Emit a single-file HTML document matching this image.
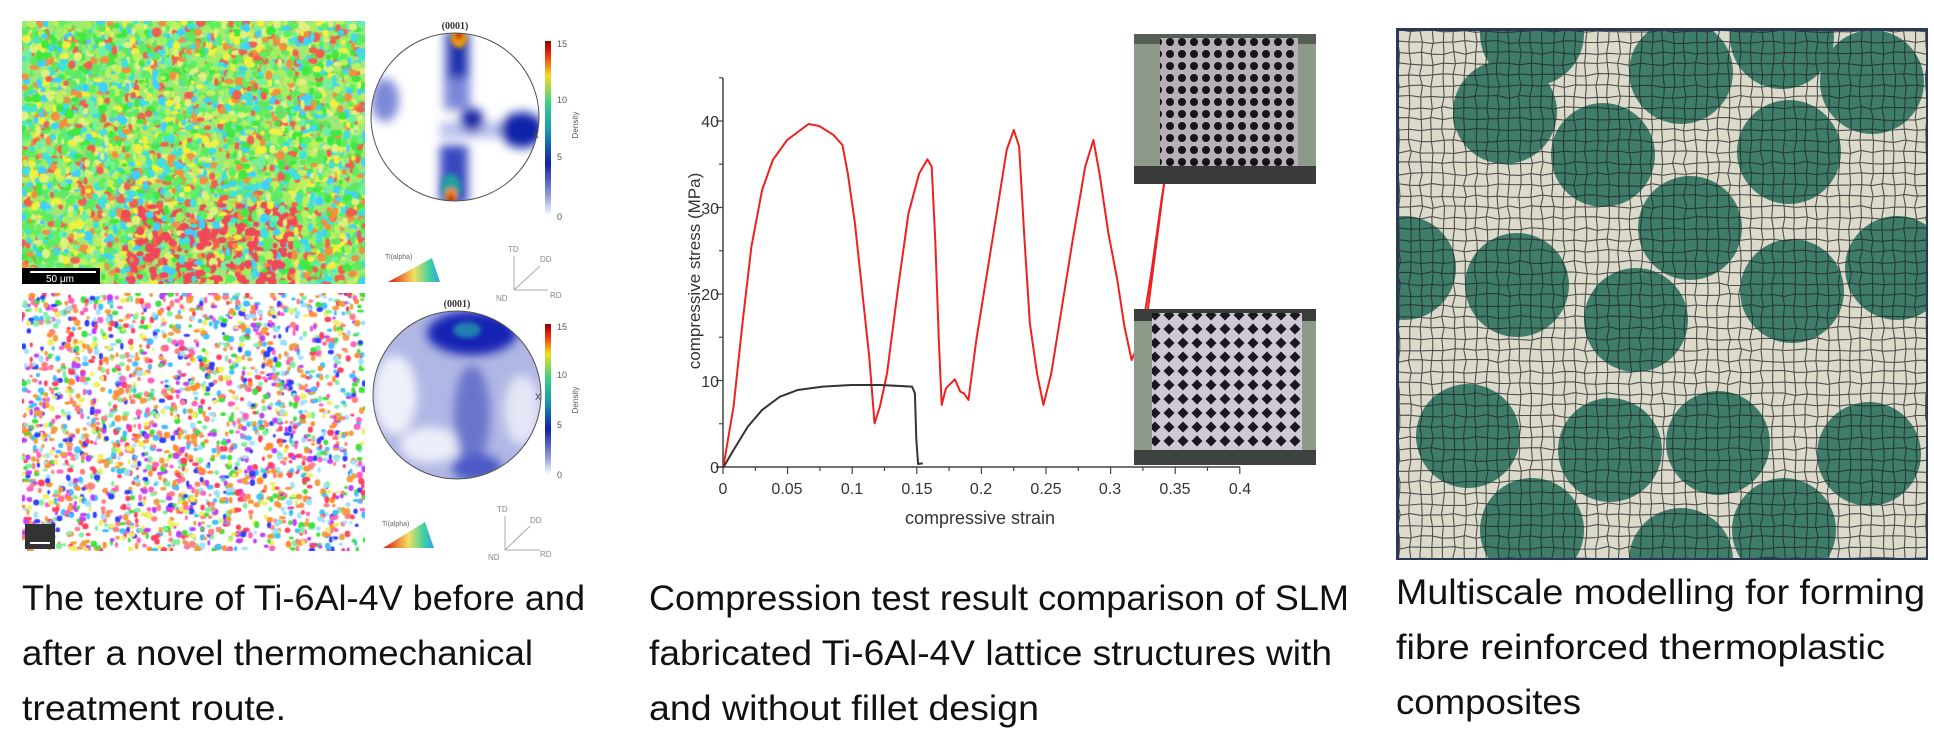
<!DOCTYPE html>
<html><head><meta charset="utf-8"><style>
html,body{margin:0;padding:0;background:#fff;width:1934px;height:746px;overflow:hidden}
svg{position:absolute;left:0;top:0}
canvas{position:absolute}
</style></head><body>
<canvas id="m1" width="343" height="263" style="left:22px;top:21px"></canvas>
<canvas id="m2" width="343" height="258" style="left:22px;top:293px"></canvas>
<svg width="1934" height="746" viewBox="0 0 1934 746" xmlns="http://www.w3.org/2000/svg" font-family="Liberation Sans, sans-serif">
<defs>
<filter id="bl" x="-50%" y="-50%" width="200%" height="200%"><feGaussianBlur stdDeviation="5"/></filter>
<filter id="bl2" x="-50%" y="-50%" width="200%" height="200%"><feGaussianBlur stdDeviation="2.5"/></filter>
<clipPath id="pc1"><circle cx="455" cy="117" r="84"/></clipPath>
<clipPath id="pc2"><circle cx="457" cy="395" r="84"/></clipPath>
<linearGradient id="cb" x1="0" y1="1" x2="0" y2="0">
<stop offset="0" stop-color="#fff"/><stop offset="0.12" stop-color="#8f9ad8"/><stop offset="0.3" stop-color="#1220a8"/><stop offset="0.5" stop-color="#1a9fb0"/><stop offset="0.65" stop-color="#3fd080"/><stop offset="0.8" stop-color="#f0e020"/><stop offset="0.92" stop-color="#f03010"/><stop offset="1" stop-color="#900000"/></linearGradient>
<linearGradient id="tri" x1="0" y1="0" x2="1" y2="0"><stop offset="0" stop-color="#e01010"/><stop offset="0.5" stop-color="#f0e060"/><stop offset="0.8" stop-color="#40d0a0"/><stop offset="1" stop-color="#30a0f0"/></linearGradient>
<pattern id="holes" width="12" height="12" patternUnits="userSpaceOnUse"><rect width="12" height="12" fill="#b8b0b8"/><circle cx="6" cy="6" r="4" fill="#151318"/></pattern>
<pattern id="diam" width="14" height="14" patternUnits="userSpaceOnUse"><rect width="14" height="14" fill="#cfc8d2"/><path d="M7 1.5 L12.5 7 L7 12.5 L1.5 7Z" fill="#1a181e"/></pattern>
<clipPath id="rp"><rect x="1399" y="31" width="527" height="527"/></clipPath>
</defs>

<rect x="22" y="268" width="78" height="16" fill="#000"/>
<line x1="30" y1="272" x2="96" y2="272" stroke="#fff" stroke-width="2"/>
<text x="46" y="282" font-size="10" fill="#fff">50 μm</text>
<rect x="25" y="524" width="30" height="25" fill="#333"/>
<line x1="30" y1="543" x2="50" y2="543" stroke="#fff" stroke-width="2"/>

<!-- pole figure 1 -->
<text x="455" y="29" font-size="10" text-anchor="middle" font-family="Liberation Serif, serif" font-weight="bold" fill="#333">(0001)</text>
<g clip-path="url(#pc1)">
<rect x="360" y="25" width="190" height="190" fill="#fff"/>
<g filter="url(#bl)">
<rect x="444" y="30" width="26" height="80" fill="#7c88d8"/>
<rect x="440" y="122" width="100" height="16" fill="#b8c0ec"/>
<ellipse cx="385" cy="100" rx="14" ry="22" fill="#7c88d8"/>
<ellipse cx="522" cy="130" rx="22" ry="18" fill="#1020a8"/>
<ellipse cx="472" cy="120" rx="12" ry="12" fill="#1828a8"/>
<rect x="440" y="145" width="28" height="60" fill="#3848c0"/>
<rect x="448" y="33" width="20" height="45" fill="#1830b0"/>
</g>
<g filter="url(#bl2)">
<ellipse cx="459" cy="38" rx="8" ry="10" fill="#f0a010"/>
<ellipse cx="459" cy="35" rx="4" ry="5" fill="#c01010"/>
<ellipse cx="451" cy="188" rx="10" ry="14" fill="#20a0a0"/>
<ellipse cx="451" cy="196" rx="6" ry="8" fill="#f08010"/>
<ellipse cx="451" cy="200" rx="3" ry="5" fill="#b00000"/>
</g>
</g>
<circle cx="455" cy="117" r="84" fill="none" stroke="#555" stroke-width="1"/>
<text x="533" y="138" font-size="9" fill="#444">X</text>
<rect x="545" y="41" width="6" height="175" fill="url(#cb)"/>
<text x="557" y="47" font-size="9" fill="#555">15</text><text x="557" y="103" font-size="9" fill="#555">10</text><text x="557" y="160" font-size="9" fill="#555">5</text><text x="557" y="220" font-size="9" fill="#555">0</text>
<text x="578" y="125" font-size="8" fill="#555" transform="rotate(-90 578 125)" text-anchor="middle">Density</text>
<path d="M388 282 L432 258 L440 282 Z" fill="url(#tri)"/>
<text x="385" y="259" font-size="7" fill="#666">Ti(alpha)</text>
<text x="496" y="301" font-size="8" fill="#888">ND</text><text x="550" y="298" font-size="8" fill="#888">RD</text><text x="508" y="252" font-size="8" fill="#888">TD</text><text x="540" y="262" font-size="8" fill="#888">DD</text>
<line x1="514" y1="290" x2="548" y2="290" stroke="#aaa"/><line x1="514" y1="290" x2="514" y2="256" stroke="#aaa"/><line x1="514" y1="290" x2="540" y2="266" stroke="#aaa"/>

<!-- pole figure 2 -->
<text x="457" y="307" font-size="10" text-anchor="middle" font-family="Liberation Serif, serif" font-weight="bold" fill="#333">(0001)</text>
<g clip-path="url(#pc2)">
<rect x="360" y="305" width="195" height="180" fill="#b0b7e4"/>
<g filter="url(#bl)">
<ellipse cx="395" cy="395" rx="22" ry="40" fill="#eef0fa"/>
<ellipse cx="522" cy="410" rx="18" ry="35" fill="#e4e6f6"/>
<ellipse cx="430" cy="445" rx="30" ry="18" fill="#eceefa"/>
<ellipse cx="472" cy="333" rx="45" ry="22" fill="#1424b4"/>
<ellipse cx="472" cy="415" rx="18" ry="50" fill="#6a76cc"/>
<ellipse cx="477" cy="468" rx="25" ry="14" fill="#4c5ac4"/>
</g>
<ellipse cx="467" cy="330" rx="14" ry="8" fill="#2080b0" filter="url(#bl2)"/>
</g>
<circle cx="457" cy="395" r="84" fill="none" stroke="#555" stroke-width="1"/>
<text x="535" y="400" font-size="9" fill="#444">X</text>
<rect x="545" y="324" width="6" height="151" fill="url(#cb)"/>
<text x="557" y="330" font-size="9" fill="#555">15</text><text x="557" y="378" font-size="9" fill="#555">10</text><text x="557" y="428" font-size="9" fill="#555">5</text><text x="557" y="478" font-size="9" fill="#555">0</text>
<text x="578" y="400" font-size="8" fill="#555" transform="rotate(-90 578 400)" text-anchor="middle">Density</text>
<path d="M383 548 L425 522 L434 548 Z" fill="url(#tri)"/>
<text x="382" y="526" font-size="7" fill="#666">Ti(alpha)</text>
<text x="488" y="560" font-size="8" fill="#888">ND</text><text x="540" y="557" font-size="8" fill="#888">RD</text><text x="497" y="512" font-size="8" fill="#888">TD</text><text x="530" y="523" font-size="8" fill="#888">DD</text>
<line x1="505" y1="550" x2="540" y2="550" stroke="#aaa"/><line x1="505" y1="550" x2="505" y2="516" stroke="#aaa"/><line x1="505" y1="550" x2="530" y2="526" stroke="#aaa"/>

<!-- chart -->
<g stroke="#444" stroke-width="1.5" fill="none">
<line x1="723" y1="78" x2="723" y2="467"/>
<line x1="716" y1="467" x2="1240" y2="467"/>
</g>
<g stroke="#444" stroke-width="1.2" id="ticks"></g>
<g font-size="16" fill="#333" text-anchor="end">
<text x="719" y="473">0</text><text x="719" y="387">10</text><text x="719" y="300">20</text><text x="719" y="214">30</text><text x="719" y="127">40</text>
</g>
<g font-size="16" fill="#333" text-anchor="middle">
<text x="723" y="494">0</text><text x="787" y="494">0.05</text><text x="852" y="494">0.1</text><text x="917" y="494">0.15</text><text x="981" y="494">0.2</text><text x="1046" y="494">0.25</text><text x="1110" y="494">0.3</text><text x="1175" y="494">0.35</text><text x="1240" y="494">0.4</text>
</g>
<text x="980" y="524" font-size="18" fill="#333" text-anchor="middle">compressive strain</text>
<text x="700" y="271" font-size="17" fill="#333" text-anchor="middle" transform="rotate(-90 700 271)">compressive stress (MPa)</text>
<g transform="translate(680,40) scale(0.357,0.3333)" fill="none" stroke-linejoin="round">
<polyline vector-effect="non-scaling-stroke" stroke="#f02020" stroke-width="2" points="121,1283 150,1100 175,850 200,620 230,450 260,360 300,300 360,252 390,258 430,285 455,315 470,400 490,550 510,750 530,950 545,1150 560,1100 580,1000 610,750 640,520 670,400 693,358 705,380 715,600 725,900 733,1095 745,1045 770,1018 785,1055 795,1060 808,1080 830,900 860,700 890,500 915,330 935,270 950,320 965,600 980,850 1000,1000 1018,1095 1040,1000 1070,800 1100,600 1135,380 1158,300 1175,400 1200,580 1225,720 1245,860 1265,960 1290,900 1320,700 1350,470 1365,380 1380,200"/>
<polyline vector-effect="non-scaling-stroke" stroke="#333" stroke-width="2" points="121,1283 150,1230 190,1160 230,1110 280,1070 330,1050 400,1040 480,1035 560,1035 650,1040 658,1060 662,1200 667,1272 680,1270"/>
</g>
<!-- photos -->
<rect x="1134" y="34" width="182" height="150" fill="#8d9a89"/>
<rect x="1134" y="34" width="182" height="10" fill="#556055"/>
<rect x="1160" y="38" width="138" height="128" fill="url(#holes)"/>
<rect x="1134" y="166" width="182" height="18" fill="#3a3a3a"/>
<rect x="1134" y="309" width="182" height="156" fill="#8d9a89"/>
<rect x="1134" y="309" width="182" height="12" fill="#3a3e3a"/>
<rect x="1152" y="313" width="150" height="138" fill="url(#diam)"/>
<rect x="1134" y="450" width="182" height="15" fill="#3d443f"/>
<line x1="1164" y1="184" x2="1148" y2="309" stroke="#f02020" stroke-width="2"/>

<!-- right panel -->
<rect x="1396" y="28" width="532" height="532" fill="#2a3a55"/>
<rect x="1399" y="31" width="527" height="527" fill="#dcdacb"/>
<g clip-path="url(#rp)">
<g fill="#3f7d6b" id="circ"></g>
<g stroke="#222" stroke-opacity="0.75" stroke-width="1.1" id="mesh"></g>
</g>

<!-- captions -->
<g font-size="35" fill="#111" font-family="Liberation Sans Narrow, Liberation Sans, sans-serif">
<text x="22" y="610" textLength="563" lengthAdjust="spacingAndGlyphs">The texture of Ti-6Al-4V before and</text>
<text x="22" y="665" textLength="511" lengthAdjust="spacingAndGlyphs">after a novel thermomechanical</text>
<text x="22" y="720" textLength="264" lengthAdjust="spacingAndGlyphs">treatment route.</text>
<text x="649" y="610" textLength="700" lengthAdjust="spacingAndGlyphs">Compression test result comparison of SLM</text>
<text x="649" y="665" textLength="683" lengthAdjust="spacingAndGlyphs">fabricated Ti-6Al-4V lattice structures with</text>
<text x="649" y="720" textLength="390" lengthAdjust="spacingAndGlyphs">and without fillet design</text>
<text x="1396" y="604" textLength="529" lengthAdjust="spacingAndGlyphs">Multiscale modelling for forming</text>
<text x="1396" y="659" textLength="489" lengthAdjust="spacingAndGlyphs">fibre reinforced thermoplastic</text>
<text x="1396" y="714" textLength="185" lengthAdjust="spacingAndGlyphs">composites</text>
</g>
</svg>
<script>
var NS="http://www.w3.org/2000/svg";
function el(p,t,a){var e=document.createElementNS(NS,t);for(var k in a)e.setAttribute(k,a[k]);p.appendChild(e);return e;}
var tk=document.getElementById("ticks");
for(var i=0;i<=16;i++){var x=723+i*32.3;var L=(i%2==0)?7:4;el(tk,"line",{x1:x,y1:467,x2:x,y2:467+L});}
for(var v=0;v<=45;v+=5){var y=467-v*8.65;var L=(v%10==0)?7:4;el(tk,"line",{x1:723-L,y1:y,x2:723,y2:y});}
var C=[[1532,34],[1681,72],[1782,37],[1872,82],[1505,112],[1603,155],[1789,152],[1690,228],[1404,268],[1517,285],[1636,320],[1792,291],[1897,268],[1468,436],[1610,450],[1718,443],[1869,454],[1532,530],[1681,560],[1784,530]];
var cg=document.getElementById("circ");
C.forEach(function(c){el(cg,"circle",{cx:c[0],cy:c[1],r:52});});
var mg=document.getElementById("mesh");
var d="";
function rnd(s){var x=Math.sin(s)*43758.5453;return x-Math.floor(x);}
for(var y=31;y<560;y+=11){d+="M1399 "+y;for(var x=1399;x<=1930;x+=11){d+=" L"+x+" "+(y+(rnd(x*3.1+y*7.7)-0.5)*3).toFixed(1);}}
for(var x=1399;x<1930;x+=11){d+="M"+x+" 31";for(var y=31;y<=560;y+=11){d+=" L"+(x+(rnd(x*5.3+y*1.9)-0.5)*3).toFixed(1)+" "+y;}}
el(mg,"path",{d:d,fill:"none"});
function map(id,bg,n,pal,rmin,rmax,red){var cv=document.getElementById(id),g=cv.getContext("2d");g.fillStyle=bg;g.fillRect(0,0,cv.width,cv.height);for(var i=0;i<n;i++){var x=rnd(i*12.9+7)*cv.width,y=rnd(i*78.2+21)*cv.height;var col=pal[Math.floor(rnd(i*3.7+1)*pal.length)];if(red&&y>cv.height*0.7&&x>cv.width*0.3&&x<cv.width*0.8&&rnd(i*9.1)<0.4)col="#f04858";g.fillStyle=col;g.beginPath();g.ellipse(x,y,rmin+rnd(i*2.3)*(rmax-rmin),rmin+rnd(i*4.1)*(rmax-rmin),0,0,6.3);g.fill();}}
map("m1","#9ee87a",5000,["#5cf060","#40e840","#a0f060","#f0f040","#f06050","#40e0e0","#f09040","#70f0a0","#e0f080","#60e860","#40d0ff","#c0f060"],2,5,true);
map("m2","#ffffff",2400,["#ff4060","#ff60c0","#40e040","#40c0ff","#f0a040","#f0f060","#c040ff","#3040ff","#ff8080","#80f0a0","#a0e0ff","#ff9030"],1.5,3.5,false);
</script>
</body></html>
